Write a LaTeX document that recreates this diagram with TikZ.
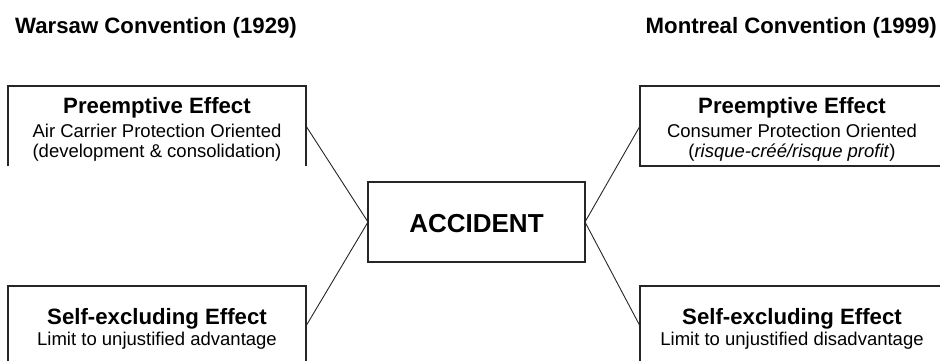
\documentclass[tikz,border=0pt]{standalone}
\usepackage{fontspec}
\setmainfont{Liberation Sans}
\begin{document}
\begin{tikzpicture}[x=1pt,y=-1pt,
  frame/.style={line width=1.2pt,draw=black!85},
  box/.style={inner sep=0pt,outer sep=0pt,minimum height=80pt},
  link/.style={line width=0.9pt,draw=black!85},
  title/.style={inner sep=0pt,font=\fontsize{22.2}{26}\selectfont\bfseries},
  head/.style={inner sep=0pt,anchor=base,font=\fontsize{22.2}{26}\selectfont\bfseries},
  sub/.style={inner sep=0pt,anchor=base,font=\fontsize{18.5}{22}\selectfont},
  big/.style={inner sep=0pt,anchor=base,font=\fontsize{26}{30}\selectfont\bfseries}]
\useasboundingbox (0,0) rectangle (940,360);
\clip (0,0) rectangle (940,360);

% column titles
\node[title,anchor=base west] (wtitle) at (15,33) {Warsaw Convention (1929)};
\node[title,anchor=base east] (mtitle) at (937,33) {Montreal Convention (1999)};

% boxes
\node[box,minimum width=298pt] (wpre) at (157,126) {};
\draw[frame] (wpre.south west) -- (wpre.north west) -- (wpre.north east) -- (wpre.south east);
\node[box,frame,minimum width=304pt] (mpre) at (792,126) {};
\node[box,frame,minimum width=298pt] (wself) at (157,326) {};
\node[box,frame,minimum width=304pt] (mself) at (792,326) {};
\node[box,frame,minimum width=217pt] (acc) at (476.5,222) {};

% box texts
\node[head] (wpreh) at (157,113) {Preemptive Effect};
\node[sub]  (wpre1) at (157,137) {Air Carrier Protection Oriented};
\node[sub]  (wpre2) at (157,157) {(development \& consolidation)};

\node[head] (mpreh) at (792,113) {Preemptive Effect};
\node[sub]  (mpre1) at (792,137) {Consumer Protection Oriented};
\node[sub]  (mpre2) at (792,157) {(\textit{risque-créé/risque profit})};

\node[head] (wselfh) at (157,324) {Self-excluding Effect};
\node[sub]  (wself1) at (157,345) {Limit to unjustified advantage};

\node[head] (mselfh) at (792,324) {Self-excluding Effect};
\node[sub]  (mself1) at (792,345) {Limit to unjustified disadvantage};

\node[big] (acct) at (476.5,232) {ACCIDENT};

% connectors
\draw[link] (wpre.east) -- (acc.west);
\draw[link] (wself.east) -- (acc.west);
\draw[link] (acc.east) -- (mpre.west);
\draw[link] (acc.east) -- (mself.west);
\end{tikzpicture}
\end{document}
